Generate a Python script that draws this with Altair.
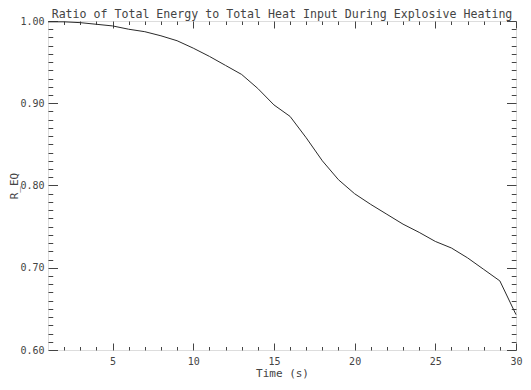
import altair as alt
import pandas as pd

# ---- data ----
time_s = [1, 2, 3, 4, 5, 6, 7, 8, 9, 10,
          11, 12, 13, 14, 15, 16, 17, 18, 19, 20,
          21, 22, 23, 24, 25, 26, 27, 28, 29, 30]
r_eq = [0.999, 0.999, 0.998, 0.996, 0.994, 0.990, 0.987, 0.982, 0.976, 0.967,
        0.957, 0.946, 0.935, 0.918, 0.898, 0.884, 0.858, 0.830, 0.807, 0.790,
        0.777, 0.765, 0.753, 0.743, 0.732, 0.724, 0.712, 0.698, 0.684, 0.643]

x_major = [5, 10, 15, 20, 25, 30]
x_minor = [2, 3, 4, 6, 7, 8, 9, 11, 12, 13, 14, 16, 17, 18, 19,
           21, 22, 23, 24, 26, 27, 28, 29]
y_major = [0.60, 0.70, 0.80, 0.90, 1.00]
y_minor = [0.61, 0.62, 0.63, 0.64, 0.65, 0.66, 0.67, 0.68, 0.69,
           0.71, 0.72, 0.73, 0.74, 0.75, 0.76, 0.77, 0.78, 0.79,
           0.81, 0.82, 0.83, 0.84, 0.85, 0.86, 0.87, 0.88, 0.89,
           0.91, 0.92, 0.93, 0.94, 0.95, 0.96, 0.97, 0.98, 0.99]

title_text = "Ratio of Total Energy to Total Heat Input During Explosive Heating"
x_title = "Time (s)"
y_title = "R_EQ"

df = pd.DataFrame({"t": time_s, "r": r_eq})

FONT = "DejaVu Sans Mono"
INK = "#444444"
XMAJ, XMIN = 7, 3.5
YMAJ, YMIN = 9.5, 4.75

xs = alt.Scale(domain=[1, 30], nice=False, zero=False)
ys = alt.Scale(domain=[0.6, 1.0], nice=False, zero=False)


def ax(orient, values, size, labels=False, title=None, **kw):
    return alt.Axis(orient=orient, values=values, tickSize=size, offset=-size,
                    domain=False, grid=False, labels=labels, title=title,
                    tickColor=INK, tickWidth=1,
                    labelFont=FONT, labelFontSize=10, labelColor=INK,
                    labelFontWeight="normal",
                    titleFont=FONT, titleFontSize=11, titleColor=INK,
                    titleFontWeight="normal",
                    labelFlush=False, labelOverlap=False, labelBound=False,
                    **kw)


base = alt.Chart(df)

main = base.mark_line(color="#2a2a2a", strokeWidth=1).encode(
    x=alt.X("t:Q", scale=xs,
            axis=ax("bottom", x_major, XMAJ, labels=True, title=x_title,
                    labelPadding=6, titlePadding=1)),
    y=alt.Y("r:Q", scale=ys,
            axis=ax("left", y_major, YMAJ, labels=True, title=y_title,
                    format=".2f", labelPadding=4, titlePadding=0)),
)

minor_bl = base.mark_line(opacity=0).encode(
    x=alt.X("t:Q", scale=xs, axis=ax("bottom", x_minor, XMIN)),
    y=alt.Y("r:Q", scale=ys, axis=ax("left", y_minor, YMIN)),
)

major_tr = base.mark_line(opacity=0).encode(
    x=alt.X("t:Q", scale=xs, axis=ax("top", x_major, XMAJ)),
    y=alt.Y("r:Q", scale=ys, axis=ax("right", y_major, YMAJ)),
)

minor_tr = base.mark_line(opacity=0).encode(
    x=alt.X("t:Q", scale=xs, axis=ax("top", x_minor, XMIN)),
    y=alt.Y("r:Q", scale=ys, axis=ax("right", y_minor, YMIN)),
)

chart = (
    alt.layer(main, minor_bl, major_tr, minor_tr)
    .resolve_axis(x="independent", y="independent")
    .properties(
        width=468, height=329,
        autosize="none",
        padding={"left": 40, "top": 13, "right": 7, "bottom": 32},
        title=alt.TitleParams(title_text, anchor="middle", font=FONT,
                              fontSize=11.6, fontWeight="normal", color=INK,
                              offset=-5),
    )
    .configure_view(stroke="#2a2a2a", strokeWidth=1)
    .configure(background="white")
)

chart.save("out.html", embed_options={"renderer": "svg", "actions": False})
